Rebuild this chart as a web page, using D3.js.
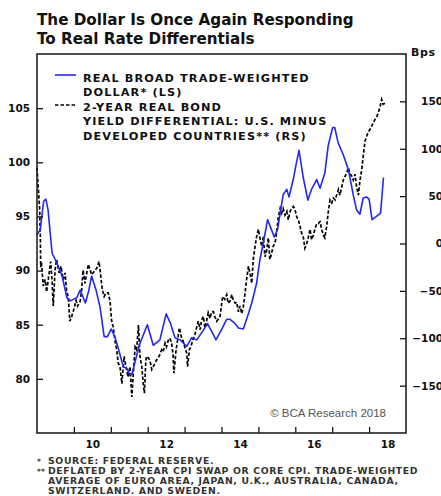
<!DOCTYPE html>
<html>
<head>
<meta charset="utf-8">
<script src="https://cdn.jsdelivr.net/npm/d3@7"></script>
<style>
  html, body { margin: 0; padding: 0; background: #fff; }
  svg { display: block; }
</style>
</head>
<body>
<svg id="chart" width="441" height="496"></svg>
<script>
// Real broad trade-weighted dollar index (left scale)
const dollarDates = [
  2009.00, 2009.09, 2009.18, 2009.24, 2009.30, 2009.41, 2009.54, 2009.68, 2009.81, 2009.90,
  2010.08, 2010.17, 2010.31, 2010.40, 2010.48, 2010.60, 2010.71, 2010.82, 2010.91, 2011.01,
  2011.11, 2011.22, 2011.34, 2011.43, 2011.52, 2011.57, 2011.78, 2011.99, 2012.15, 2012.33,
  2012.50, 2012.62, 2012.74, 2012.88, 2013.06, 2013.19, 2013.33, 2013.51, 2013.62, 2013.73,
  2013.85, 2013.98, 2014.14, 2014.23, 2014.37, 2014.46, 2014.59, 2014.68, 2014.82, 2014.95,
  2015.04, 2015.13, 2015.25, 2015.34, 2015.43, 2015.52, 2015.67, 2015.77, 2015.83, 2015.95,
  2016.01, 2016.10, 2016.22, 2016.34, 2016.44, 2016.58, 2016.67, 2016.80, 2016.89, 2017.01,
  2017.07, 2017.16, 2017.30, 2017.44, 2017.57, 2017.66, 2017.75, 2017.84, 2017.93, 2018.00,
  2018.08, 2018.20, 2018.31, 2018.39
];
const dollarValues = [
  93.3, 93.8, 96.4, 96.6, 95.6, 91.6, 90.7, 89.5, 87.5, 87.2,
  87.5, 88.2, 87.0, 88.1, 89.5, 88.2, 86.6, 83.9, 83.9, 84.6,
  83.9, 82.6, 81.1, 81.0, 80.4, 80.4, 83.2, 85.0, 83.1, 83.6,
  86.0, 85.1, 83.8, 83.6, 83.0, 83.8, 83.6, 84.5, 85.1, 84.4,
  83.6, 84.4, 85.5, 85.5, 85.1, 84.7, 84.6, 85.5, 87.0, 88.8,
  91.0, 92.5, 94.7, 93.9, 93.1, 93.8, 97.0, 97.5, 96.8, 98.5,
  99.6, 101.1, 98.5, 96.5, 97.5, 98.4, 97.6, 99.0, 101.5, 103.2,
  103.2, 101.8, 100.7, 99.3, 97.0, 95.6, 95.2, 96.7, 96.8, 96.6,
  94.7, 95.0, 95.3, 98.6
];

// 2-year real bond yield differential, U.S. minus developed countries, bps (right scale)
const spreadDates = [
  2009.00, 2009.04, 2009.07, 2009.09, 2009.10, 2009.12, 2009.17, 2009.22, 2009.26, 2009.33,
  2009.37, 2009.41, 2009.44, 2009.49, 2009.53, 2009.60, 2009.65, 2009.71, 2009.76, 2009.80,
  2009.85, 2009.89, 2009.94, 2009.98, 2010.06, 2010.10, 2010.17, 2010.21, 2010.25, 2010.30,
  2010.35, 2010.39, 2010.44, 2010.48, 2010.54, 2010.62, 2010.68, 2010.73, 2010.77, 2010.82,
  2010.87, 2010.93, 2010.98, 2011.02, 2011.07, 2011.11, 2011.16, 2011.20, 2011.25, 2011.30,
  2011.36, 2011.41, 2011.47, 2011.52, 2011.57, 2011.61, 2011.66, 2011.70, 2011.75, 2011.79,
  2011.84, 2011.88, 2011.91, 2011.95, 2011.97, 2012.02, 2012.06, 2012.11, 2012.15, 2012.20,
  2012.24, 2012.31, 2012.38, 2012.42, 2012.47, 2012.51, 2012.56, 2012.60, 2012.65, 2012.69,
  2012.71, 2012.77, 2012.81, 2012.86, 2012.92, 2012.96, 2013.01, 2013.06, 2013.08, 2013.13,
  2013.17, 2013.22, 2013.28, 2013.33, 2013.37, 2013.42, 2013.46, 2013.51, 2013.55, 2013.60,
  2013.64, 2013.69, 2013.73, 2013.78, 2013.82, 2013.87, 2013.91, 2013.96, 2014.03, 2014.09,
  2014.14, 2014.18, 2014.23, 2014.28, 2014.32, 2014.37, 2014.41, 2014.46, 2014.50, 2014.55,
  2014.59, 2014.64, 2014.68, 2014.73, 2014.77, 2014.82, 2014.86, 2014.91, 2014.95, 2015.00,
  2015.04, 2015.09, 2015.13, 2015.18, 2015.22, 2015.27, 2015.31, 2015.36, 2015.40, 2015.45,
  2015.49, 2015.54, 2015.59, 2015.63, 2015.67, 2015.72, 2015.77, 2015.81, 2015.86, 2015.90,
  2015.95, 2015.99, 2016.04, 2016.08, 2016.13, 2016.17, 2016.22, 2016.26, 2016.31, 2016.35,
  2016.40, 2016.44, 2016.49, 2016.53, 2016.58, 2016.62, 2016.67, 2016.72, 2016.76, 2016.80,
  2016.85, 2016.89, 2016.94, 2016.99, 2017.03, 2017.08, 2017.12, 2017.17, 2017.21, 2017.26,
  2017.30, 2017.35, 2017.39, 2017.44, 2017.48, 2017.53, 2017.57, 2017.62, 2017.66, 2017.71,
  2017.75, 2017.80, 2017.84, 2017.89, 2017.93, 2017.98, 2018.02, 2018.07, 2018.11, 2018.16,
  2018.21, 2018.25, 2018.30, 2018.34, 2018.38, 2018.43
];
const spreadBps = [
  80, 55, 38, 10, -25, -20, -45, -38, -51, -31,
  -19, -40, -66, -28, -17, -31, -24, -38, -31, -49,
  -58, -82, -77, -72, -60, -66, -61, -49, -28, -42,
  -31, -22, -28, -33, -30, -26, -19, -35, -49, -56,
  -52, -52, -61, -81, -89, -102, -112, -126, -130, -148,
  -119, -130, -141, -130, -162, -137, -109, -112, -86, -119,
  -130, -148, -158, -123, -119, -121, -123, -133, -130, -126,
  -123, -119, -112, -114, -105, -109, -102, -100, -105, -119,
  -137, -112, -102, -89, -100, -103, -110, -116, -130, -112,
  -109, -102, -96, -88, -82, -91, -81, -77, -89, -81,
  -73, -79, -72, -72, -77, -82, -80, -77, -56, -59,
  -54, -63, -61, -54, -60, -63, -62, -72, -66, -74,
  -67, -52, -38, -24, -31, -42, -17, -3, 7, 15,
  6, -3, 7, -14, -8, 6, -17, -10, -3, 0,
  11, 28, 37, 32, 37, 30, 34, 25, 34, 37,
  39, 36, 28, 25, 18, 11, 6, -5, 0, 6,
  15, 4, 9, 15, 21, 21, 23, 14, 9, 6,
  18, 32, 46, 43, 48, 46, 51, 57, 51, 60,
  67, 71, 74, 80, 74, 71, 67, 73, 60, 51,
  66, 78, 92, 108, 113, 118, 120, 124, 127, 131,
  134, 138, 145, 152, 147, 148
];

// Axis ticks and labels
const leftTicks = [80, 85, 90, 95, 100, 105];
const rightTicks = [-150, -100, -50, 0, 50, 100, 150];
const yearTicks = [2010, 2011, 2012, 2013, 2014, 2015, 2016, 2017, 2018];
const yearLabels = ["10", "12", "14", "16", "18"];

const titleLines = ["The Dollar Is Once Again Responding", "To Real Rate Differentials"];
const legendDollar = ["REAL BROAD TRADE-WEIGHTED", "DOLLAR* (LS)"];
const legendSpread = ["2-YEAR REAL BOND", "YIELD DIFFERENTIAL: U.S. MINUS", "DEVELOPED COUNTRIES** (RS)"];
const footnotes = [
  ["*", "SOURCE: FEDERAL RESERVE."],
  ["**", "DEFLATED BY 2-YEAR CPI SWAP OR CORE CPI. TRADE-WEIGHTED"],
  ["", "AVERAGE OF EURO AREA, JAPAN, U.K., AUSTRALIA, CANADA,"],
  ["", "SWITZERLAND. AND SWEDEN."]
];

const svg = d3.select("#chart");
const plot = { left: 37, right: 406, top: 54, bottom: 433 };
const BOLD = "'DejaVu Sans', sans-serif";
const BLUE = "#2626f2";

const x = d3.scaleLinear().domain([2009, 2019]).range([plot.left, plot.right]);
const yL = d3.scaleLinear().domain([75, 110]).range([plot.bottom, plot.top]);
const yR = d3.scaleLinear().domain([-200, 200]).range([plot.bottom, plot.top]);

// Title
svg.append("g").selectAll("text").data(titleLines).join("text")
  .attr("x", 37).attr("y", (d, i) => 25 + i * 19)
  .attr("font-family", BOLD).attr("font-weight", 700)
  .attr("font-size", 15.2).attr("fill", "#111")
  .text(d => d);

// Series
const dollarData = dollarDates.map((d, i) => [d, dollarValues[i]]);
const spreadData = spreadDates.map((d, i) => [d, spreadBps[i]]);

svg.append("path").datum(spreadData)
  .attr("fill", "none").attr("stroke", "#000").attr("stroke-width", 1.7)
  .attr("stroke-dasharray", "3.5,2")
  .attr("d", d3.line().x(d => x(d[0])).y(d => yR(d[1])));

svg.append("path").datum(dollarData)
  .attr("fill", "none").attr("stroke", BLUE).attr("stroke-width", 1.6)
  .attr("stroke-linejoin", "round")
  .attr("d", d3.line().x(d => x(d[0])).y(d => yL(d[1])));

// Left axis (inward ticks)
const gL = svg.append("g").attr("transform", `translate(${plot.left},0)`)
  .call(d3.axisLeft(yL).tickValues(leftTicks).tickSize(-6).tickPadding(7));
// Right axis (inward ticks, labels right-aligned at the page edge)
const gR = svg.append("g").attr("transform", `translate(${plot.right},0)`)
  .call(d3.axisRight(yR).tickValues(rightTicks).tickSize(-6).tickPadding(37));
gR.selectAll("text").attr("text-anchor", "end");
// Bottom axis: year boundary ticks, labels centred on even years
const gB = svg.append("g").attr("transform", `translate(0,${plot.bottom})`)
  .call(d3.axisBottom(x).tickValues(yearTicks).tickSize(-6).tickFormat(""));
const gBL = svg.append("g").attr("transform", `translate(0,${plot.bottom})`)
  .call(d3.axisBottom(x).tickValues(yearLabels.map(s => 2000 + +s + 0.5)).tickSize(0).tickPadding(8)
    .tickFormat(d => String(Math.floor(d) % 100)));

[gL, gR, gB, gBL].forEach(g => {
  g.select(".domain").remove();
  g.selectAll("line").attr("stroke", "#000").attr("stroke-width", 1.2);
  g.selectAll("text").attr("font-family", BOLD).attr("font-weight", 700)
    .attr("font-size", 10.5).attr("fill", "#111");
});

// Frame
svg.append("rect")
  .attr("x", plot.left).attr("y", plot.top)
  .attr("width", plot.right - plot.left).attr("height", plot.bottom - plot.top)
  .attr("fill", "none").attr("stroke", "#222").attr("stroke-width", 1.6);

// Units label
svg.append("text").attr("x", 411).attr("y", 56)
  .attr("font-family", BOLD).attr("font-weight", 700).attr("font-size", 11)
  .attr("letter-spacing", 0.6).attr("fill", "#111")
  .text("Bps");

// Legend
const legend = svg.append("g");
legend.append("line").attr("x1", 55).attr("x2", 76).attr("y1", 75).attr("y2", 75)
  .attr("stroke", BLUE).attr("stroke-width", 1.6);
legend.append("line").attr("x1", 55).attr("x2", 77).attr("y1", 105).attr("y2", 105)
  .attr("stroke", "#000").attr("stroke-width", 1.7).attr("stroke-dasharray", "3.5,2");
const legendRows = legendDollar.concat(legendSpread);
legend.selectAll("text").data(legendRows).join("text")
  .attr("x", 83).attr("y", (d, i) => 82 + i * 14.4)
  .attr("font-family", BOLD).attr("font-weight", 700).attr("font-size", 11.3)
  .attr("letter-spacing", 1.1).attr("fill", "#111")
  .text(d => d);

// Credit
svg.append("text").attr("x", 386).attr("y", 417).attr("text-anchor", "end")
  .attr("font-family", "'Liberation Sans', Arial, sans-serif").attr("font-size", 11.5).attr("fill", "#555")
  .text("\u00A9 BCA Research 2018");

// Footnotes: small markers, then the note text
const fn = svg.append("g")
  .attr("font-family", BOLD).attr("font-weight", 700).attr("fill", "#333");
footnotes.forEach((f, i) => {
  const yy = 464 + i * 10;
  fn.append("text").attr("x", 37).attr("y", yy).attr("font-size", 7.5).text(f[0]);
  fn.append("text").attr("x", 48).attr("y", yy).attr("font-size", 9.3)
    .attr("letter-spacing", 0.65).text(f[1]);
});
</script>
</body>
</html>
